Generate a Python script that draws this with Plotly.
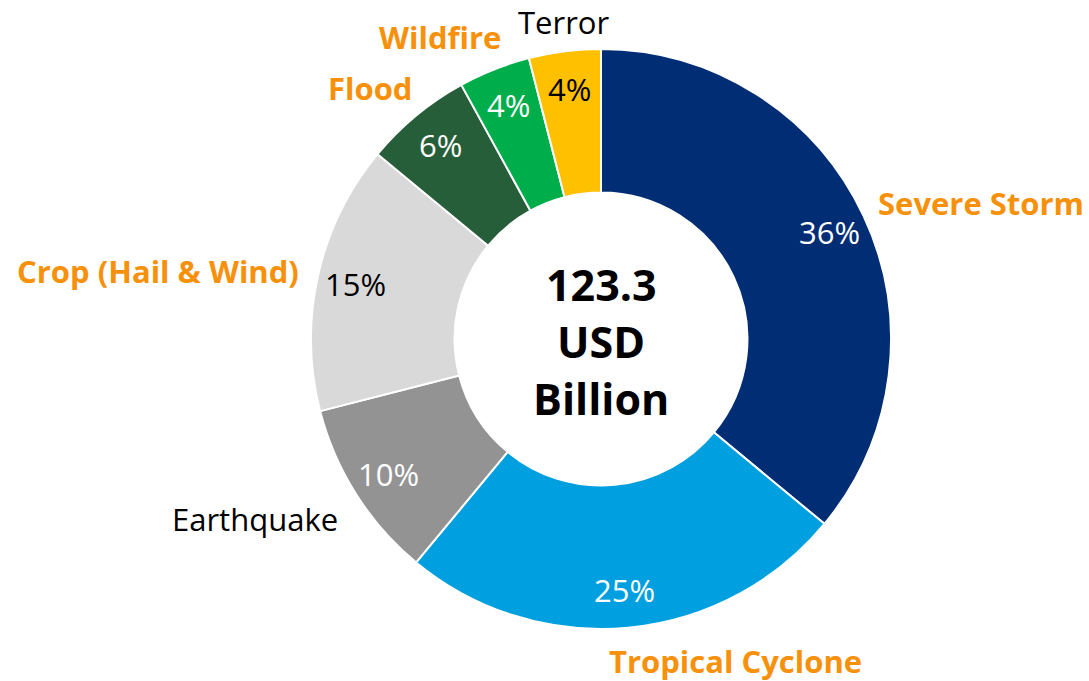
import math
import plotly.graph_objects as go

# Insured catastrophe losses by peril (share of total, %)
perils = ["Severe Storm", "Tropical Cyclone", "Earthquake", "Crop (Hail & Wind)",
          "Flood", "Wildfire", "Terror"]
shares = [36, 25, 10, 15, 6, 4, 4]
total_label = ["123.3", "USD", "Billion"]

slice_colors = ["#002D74", "#009FDF", "#939393", "#D9D9D9", "#275E3A", "#00AD4B", "#FFC000"]
pct_text_colors = ["white", "white", "white", "black", "white", "white", "black"]
name_colors = ["#F7900A", "#F7900A", "black", "#F7900A", "#F7900A", "#F7900A", "black"]
name_bold = [True, True, False, True, True, True, False]
# anchor (pixel x, pixel y) of each peril name
name_pos = [(981, 203), (735, 661), (255, 519), (158, 271), (370, 88), (440, 37), (563, 22)]

W, H = 1089, 681
CX, CY, R_OUT = 601, 339, 290
R_LABEL = 252
FONT = "'Open Sans', Lato, sans-serif"

fig = go.Figure(go.Pie(
    labels=perils,
    values=shares,
    sort=False,
    direction="clockwise",
    rotation=0,
    hole=0.505,
    marker=dict(colors=slice_colors, line=dict(color="white", width=2)),
    textinfo="none",
    hoverinfo="label+percent",
    showlegend=False,
    domain=dict(x=[(CX - R_OUT) / W, (CX + R_OUT) / W],
                y=[1 - (CY + R_OUT) / H, 1 - (CY - R_OUT) / H]),
))

annotations = []
total = sum(shares)
cum = 0
for name, v, tc, nc, nb, (nx, ny) in zip(perils, shares, pct_text_colors,
                                         name_colors, name_bold, name_pos):
    mid = (cum + v / 2) / total * 2 * math.pi
    cum += v
    px = CX + R_LABEL * math.sin(mid)
    py = CY - R_LABEL * math.cos(mid)
    annotations.append(dict(
        x=px / W, y=1 - py / H, xref="paper", yref="paper",
        text=f"{v / total * 100:.0f}%", showarrow=False,
        font=dict(family=FONT, size=31, color=tc),
        xanchor="center", yanchor="middle"))
    annotations.append(dict(
        x=nx / W, y=1 - ny / H, xref="paper", yref="paper",
        text=f"<b>{name}</b>" if nb else name, showarrow=False,
        font=dict(family=FONT, size=31, color=nc),
        xanchor="center", yanchor="middle"))

for i, line in enumerate(total_label):
    annotations.append(dict(
        x=CX / W, y=1 - (CY - 55 + 57 * i) / H, xref="paper", yref="paper",
        text=f"<b>{line}</b>", showarrow=False,
        font=dict(family=FONT, size=43, color="black"),
        xanchor="center", yanchor="middle"))

fig.update_layout(
    width=W, height=H,
    margin=dict(l=0, r=0, t=0, b=0),
    paper_bgcolor="white",
    plot_bgcolor="white",
    annotations=annotations,
)

fig.write_html("out.html")
